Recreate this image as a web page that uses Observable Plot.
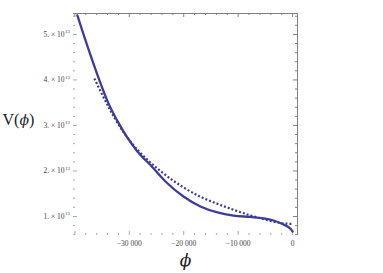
<!DOCTYPE html>
<html><head><meta charset="utf-8">
<script src="https://cdn.jsdelivr.net/npm/d3@7"></script>
<script src="https://cdn.jsdelivr.net/npm/@observablehq/plot@0.6"></script>
<style>html,body{margin:0;padding:0;background:#fff;} svg{display:block;}</style>
</head><body><div id="chart"></div>
<script>
// Solid curve: phi and V(phi) in units of 1e13
const phiSolid = [-39540,-38440,-37520,-36600,-35310,-34030,-32190,-30350,-28510,-26120,-23360,-20050,-16930,-13800,-10860,-7740,-5350,-3510,-1670,-390,0];
const vSolid   = [5.418,5.011,4.681,4.363,3.934,3.541,3.101,2.732,2.429,2.130,1.769,1.440,1.220,1.088,1.020,0.989,0.960,0.912,0.824,0.732,0.67];
// Dotted curve
const phiDotted = [-36420,-35310,-33470,-31640,-29250,-26670,-23730,-20050,-16930,-13800,-10860,-7740,-4610,-1670,0];
const vDotted   = [4.033,3.756,3.330,2.956,2.569,2.246,1.947,1.639,1.433,1.277,1.147,1.024,0.918,0.848,0.837];
// Ticks
const xMajor = [-40000,-30000,-20000,-10000,0];
const xLabels = ["−30 000","−20 000","−10 000","0"];
const xLabelPos = [-30000,-20000,-10000,0];
const xMinor = d3.range(-40000, 1, 2000).filter(v => v % 10000 !== 0);
const yMajor = [1,2,3,4,5];
const yMinor = d3.range(0.6, 5.45, 0.2).map(v => +v.toFixed(1)).filter(v => Math.abs(v - Math.round(v)) > 0.01);

const scale = 1e13;
const solid = phiSolid.map((p,i) => ({phi:p, v:vSolid[i]*scale}));
const dotted = phiDotted.map((p,i) => ({phi:p, v:vDotted[i]*scale}));
const xDom = [-40250, 900];
const yDom = [0.582*scale, 5.46*scale];
const H = 222, W = 224;
const col = "#3d3d99";
const tickCol = "#aaa";
const lineCol = "#808080";
const serif = "Liberation Serif, Times New Roman, serif";

const chart = Plot.plot({
  width: 383, height: 273,
  marginLeft: 73, marginRight: 86, marginTop: 13, marginBottom: 38,
  x: {domain: xDom, axis: null},
  y: {domain: yDom, axis: null},
  style: {fontFamily: serif, background: "#fff"},
  marks: [
    Plot.ruleY([yDom[1]], {stroke: lineCol, strokeWidth: 1}),
    Plot.ruleX([xDom[1]], {stroke: lineCol, strokeWidth: 1}),
    Plot.tickX(xMajor, {x: d => d, stroke: tickCol, insetTop: H - 4}),
    Plot.tickX(xMinor, {x: d => d, stroke: tickCol, insetTop: H - 2}),
    Plot.tickX(xMajor, {x: d => d, stroke: lineCol, insetBottom: H - 4}),
    Plot.tickX(xMinor, {x: d => d, stroke: lineCol, insetBottom: H - 2}),
    Plot.tickY(yMajor, {y: d => d*scale, stroke: tickCol, insetRight: W - 4}),
    Plot.tickY(yMinor, {y: d => d*scale, stroke: tickCol, insetRight: W - 2}),
    Plot.tickY(yMajor, {y: d => d*scale, stroke: lineCol, insetLeft: W - 4}),
    Plot.tickY(yMinor, {y: d => d*scale, stroke: lineCol, insetLeft: W - 2}),
    Plot.text(xLabelPos, {x: d => d, frameAnchor: "bottom", dy: 10, text: (d,i) => xLabels[i], fontSize: 7.5, fill: "#444", textAnchor: "middle"}),
    Plot.text(yMajor, {y: d => d*scale, frameAnchor: "left", dx: -9, text: d => `${d}. × 10`, fontSize: 7.5, fill: "#444", textAnchor: "end"}),
    Plot.text(yMajor, {y: d => d*scale, frameAnchor: "left", dx: -8.5, dy: -3, text: d => "13", fontSize: 5, fill: "#444", textAnchor: "start"}),
    Plot.line(solid, {x: "phi", y: "v", stroke: col, strokeWidth: 2.3, curve: "monotone-x"}),
    Plot.line(dotted, {x: "phi", y: "v", stroke: col, strokeWidth: 2.2, strokeDasharray: "2,2", strokeLinecap: "butt", curve: "monotone-x"}),
    Plot.text(["V(ϕ)"], {frameAnchor: "left", dx: -71, dy: -5, text: d => d, fontSize: 16, fill: "#222", textAnchor: "start", className: "vlabel"}),
    Plot.text(["ϕ"], {frameAnchor: "bottom", dy: 30, text: d => d, fontSize: 17, fontStyle: "italic", fill: "#222", textAnchor: "middle", fontFamily: "DejaVu Serif, serif"})
  ]
});
// italicise the phi inside V(ϕ)
d3.select(chart).selectAll(".vlabel text").each(function() {
  const t = d3.select(this);
  t.text(null);
  t.append("tspan").text("V(");
  t.append("tspan").attr("font-style", "italic").attr("font-family", "DejaVu Serif, serif").attr("font-size", 14).text("ϕ");
  t.append("tspan").text(")");
});
document.getElementById("chart").appendChild(chart);
</script>
</body></html>
